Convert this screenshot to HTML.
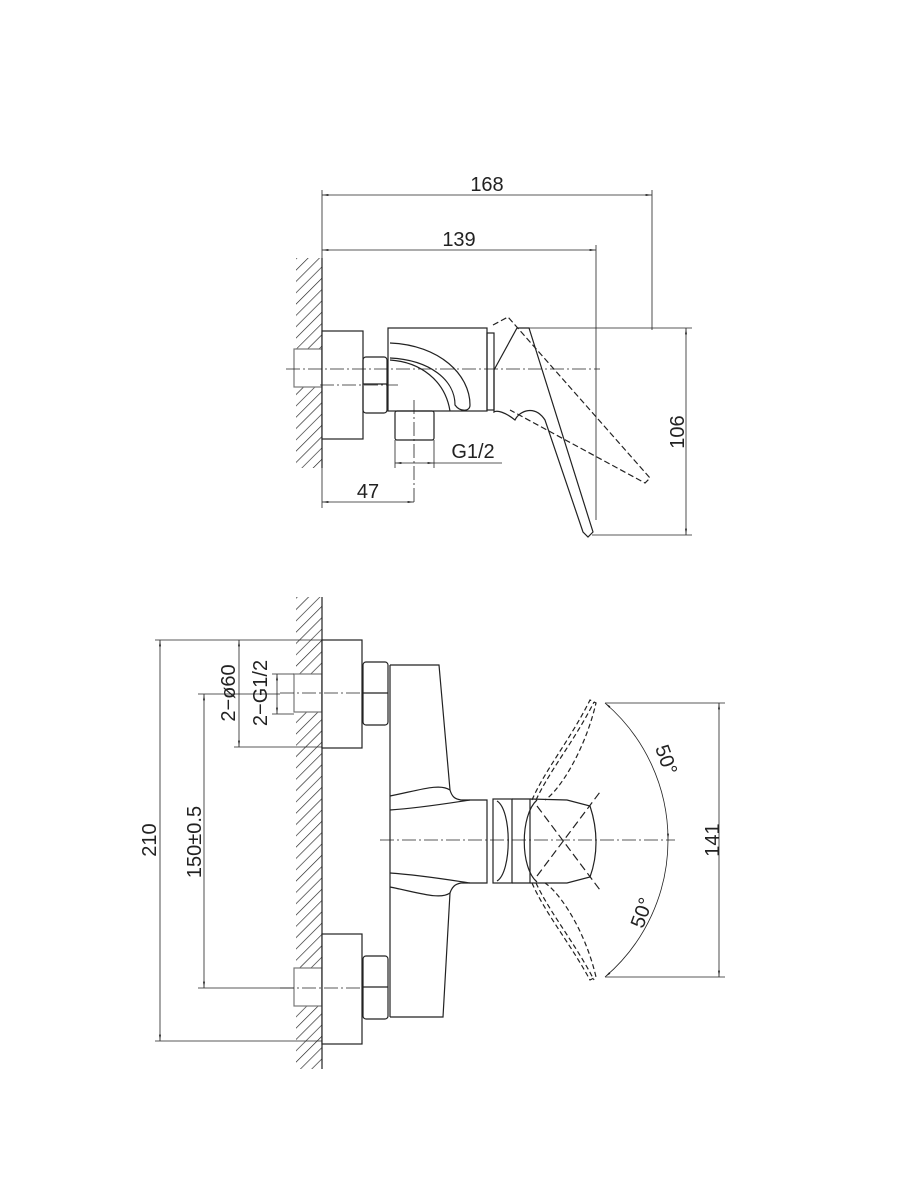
<!DOCTYPE html>
<html><head><meta charset="utf-8"><style>html,body{margin:0;background:#fff}svg{display:block}text{font-family:"Liberation Sans",sans-serif;fill:#222}</style></head><body>
<svg width="900" height="1200" viewBox="0 0 900 1200" xmlns="http://www.w3.org/2000/svg">
<defs>
<pattern id="h" width="8" height="8" patternUnits="userSpaceOnUse" patternTransform="rotate(45)"><line x1="0" y1="0" x2="0" y2="8" stroke="#222" stroke-width="1.3"/></pattern>
<marker id="a" viewBox="0 0 10 10" refX="10" refY="5" markerWidth="8" markerHeight="8" orient="auto-start-reverse"><path d="M0,3.5 L10,5 L0,6.5z" fill="#222"/></marker>
</defs>
<g fill="none" stroke="#222" stroke-width="1.2">
<rect x="296" y="258" width="26" height="210" fill="url(#h)" stroke="none"/>
<rect x="294" y="349" width="28" height="38" fill="#fff" stroke="none"/>
<line x1="322" y1="258" x2="322" y2="468"/>
<rect x="294" y="349" width="28" height="38" stroke="#777"/>
<rect x="322" y="331" width="41" height="108" fill="#fff"/>
<rect x="363" y="357" width="24" height="56" rx="3"/>
<line x1="363" y1="384" x2="387" y2="384"/>
<rect x="388" y="328" width="99" height="83"/>
<path d="M390,343 C440,345 470,375 470,405 C470,412 460,412 455,405 C455,380 430,360 390,358"/>
<path d="M390,360 C420,362 445,380 450,411"/>
<rect x="395" y="411" width="39" height="29" rx="2"/>
<rect x="487" y="333" width="7" height="77"/>
<path d="M494,370 L517,328 L529,328 L593,532 L588,537 L583,532 L545,420 C535,405 520,410 515,420 C505,412 497,410 494,412 Z"/>
<path d="M493,325 L508,317 L650,478 L645,483 L510,410" stroke-dasharray="6,3"/>
<line x1="286" y1="369" x2="600" y2="369" stroke-width="0.8" stroke-dasharray="14,3,2,3"/>
<line x1="320" y1="385" x2="398" y2="385" stroke-width="0.8" stroke-dasharray="14,3,2,3"/>
<line x1="414" y1="400" x2="414" y2="505" stroke-width="0.8" stroke-dasharray="14,3,2,3"/>
<g stroke-width="0.8">
<line x1="322" y1="190" x2="322" y2="258"/><line x1="652" y1="190" x2="652" y2="330"/><line x1="596" y1="245" x2="596" y2="520"/>
<line x1="322" y1="195" x2="652" y2="195" marker-start="url(#a)" marker-end="url(#a)"/>
<line x1="322" y1="250" x2="596" y2="250" marker-start="url(#a)" marker-end="url(#a)"/>
<line x1="529" y1="328" x2="692" y2="328"/><line x1="592" y1="535" x2="692" y2="535"/>
<line x1="686" y1="328" x2="686" y2="535" marker-start="url(#a)" marker-end="url(#a)"/>
<line x1="322" y1="468" x2="322" y2="508"/>
<line x1="322" y1="502" x2="414" y2="502" marker-start="url(#a)" marker-end="url(#a)"/>
<line x1="395" y1="440" x2="395" y2="468"/><line x1="434" y1="440" x2="434" y2="468"/>
<line x1="395" y1="463" x2="434" y2="463" marker-start="url(#a)" marker-end="url(#a)"/>
<line x1="434" y1="463" x2="502" y2="463"/>
</g>
<rect x="296" y="597" width="26" height="472" fill="url(#h)" stroke="none"/>
<rect x="294" y="674" width="28" height="38" fill="#fff" stroke="none"/>
<rect x="294" y="968" width="28" height="38" fill="#fff" stroke="none"/>
<line x1="322" y1="597" x2="322" y2="1069"/>
<rect x="294" y="674" width="28" height="38" stroke="#777"/>
<rect x="294" y="968" width="28" height="38" stroke="#777"/>
<rect x="322" y="640" width="40" height="108" fill="#fff"/>
<rect x="322" y="934" width="40" height="110" fill="#fff"/>
<rect x="363" y="662" width="25" height="63" rx="3"/><line x1="363" y1="693" x2="388" y2="693"/>
<rect x="363" y="956" width="25" height="63" rx="3"/><line x1="363" y1="987" x2="388" y2="987"/>
<line x1="390" y1="665" x2="390" y2="1017"/>
<path d="M390,665 L439,665 L450,790 C452,797 455,799 461,800 L487,800 L487,883 L461,883 C455,884 452,887 450,893 L443,1017 L390,1017"/>
<path d="M390,796 C420,790 440,783 450,790"/><path d="M390,810 C420,808 450,803 470,800"/>
<path d="M390,887 C420,893 440,900 450,893"/><path d="M390,873 C420,875 450,880 470,883"/>
<rect x="493" y="799" width="19" height="84"/>
<path d="M497,801 C512,810 512,872 497,881"/>
<path d="M512,799 L530,799 L530,883 L512,883"/>
<path d="M530,799 L567,800 L590,806 C598,830 598,855 590,877 L567,883 L530,883"/>
<path d="M537,800 C520,815 520,868 537,882"/>
<path d="M532,800 C545,770 570,740 590,700 L596,703 C585,750 560,790 545,800" stroke-dasharray="5,3"/>
<path d="M536,800 C550,770 575,740 594,702" stroke-dasharray="5,3"/>
<path d="M532,883 C545,913 570,943 590,980 L596,977 C585,930 560,893 545,883" stroke-dasharray="5,3"/>
<path d="M536,883 C550,913 575,943 594,980" stroke-dasharray="5,3"/>
<path d="M537,806 L600,890" stroke-dasharray="8,4"/><path d="M537,876 L600,792" stroke-dasharray="8,4"/>
<g stroke-width="0.8">
<line x1="380" y1="840" x2="675" y2="840" stroke-dasharray="14,3,2,3"/>
<line x1="280" y1="693" x2="360" y2="693" stroke-dasharray="14,3,2,3"/>
<line x1="280" y1="988" x2="360" y2="988" stroke-dasharray="14,3,2,3"/>
<path d="M605,703 A180,180 0 0 1 668,840" marker-start="url(#a)" marker-end="url(#a)"/>
<path d="M668,840 A180,180 0 0 1 605,977" marker-end="url(#a)"/>
<line x1="605" y1="703" x2="725" y2="703"/><line x1="605" y1="977" x2="725" y2="977"/>
<line x1="719" y1="703" x2="719" y2="977" marker-start="url(#a)" marker-end="url(#a)"/>
<line x1="155" y1="640" x2="322" y2="640"/><line x1="155" y1="1041" x2="322" y2="1041"/>
<line x1="160" y1="640" x2="160" y2="1041" marker-start="url(#a)" marker-end="url(#a)"/>
<line x1="198" y1="694" x2="280" y2="694"/><line x1="198" y1="988" x2="294" y2="988"/>
<line x1="204" y1="694" x2="204" y2="988" marker-start="url(#a)" marker-end="url(#a)"/>
<line x1="234" y1="747" x2="322" y2="747"/>
<line x1="239" y1="640" x2="239" y2="747" marker-start="url(#a)" marker-end="url(#a)"/>
<line x1="272" y1="674" x2="294" y2="674"/><line x1="272" y1="714" x2="294" y2="714"/>
<line x1="277" y1="674" x2="277" y2="714" marker-start="url(#a)" marker-end="url(#a)"/>
</g>
</g>
<g font-size="20">
<text x="487" y="191" text-anchor="middle">168</text>
<text x="459" y="246" text-anchor="middle">139</text>
<text x="368" y="498" text-anchor="middle">47</text>
<text x="473" y="458" text-anchor="middle">G1/2</text>
<text transform="translate(684,432) rotate(-90)" text-anchor="middle">106</text>
<text transform="translate(719,840) rotate(-90)" text-anchor="middle">141</text>
<text transform="translate(156,840) rotate(-90)" text-anchor="middle">210</text>
<text transform="translate(201,842) rotate(-90)" text-anchor="middle">150±0.5</text>
<text transform="translate(235,693) rotate(-90)" text-anchor="middle">2−ø60</text>
<text transform="translate(267,693) rotate(-90)" text-anchor="middle">2−G1/2</text>
<text transform="translate(660,762) rotate(70)" text-anchor="middle">50°</text>
<text transform="translate(648,915) rotate(-70)" text-anchor="middle">50°</text>
</g>
</svg>
</body></html>
